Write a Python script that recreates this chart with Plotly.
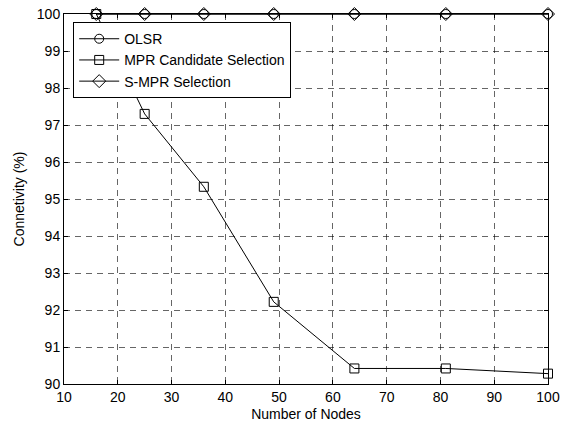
import plotly.graph_objects as go

nodes = [16, 25, 36, 49, 64, 81, 100]
olsr = [100, 100, 100, 100, 100, 100, 100]
mpr_candidate = [100, 97.3, 95.33, 92.22, 90.42, 90.42, 90.28]
smpr = [100, 100, 100, 100, 100, 100, 100]
names = ["OLSR", "MPR Candidate Selection", "S-MPR Selection"]

fig = go.Figure()
fig.add_trace(go.Scatter(x=nodes, y=olsr, name=names[0], mode="lines+markers",
                         line=dict(color="black", width=1),
                         marker=dict(symbol="circle-open", size=9, color="black", line=dict(width=1)),
                         cliponaxis=False))
fig.add_trace(go.Scatter(x=nodes, y=mpr_candidate, name=names[1], mode="lines+markers",
                         line=dict(color="black", width=1),
                         marker=dict(symbol="square-open", size=9, color="black", line=dict(width=1)),
                         cliponaxis=False))
fig.add_trace(go.Scatter(x=nodes, y=smpr, name=names[2], mode="lines+markers",
                         line=dict(color="black", width=1),
                         marker=dict(symbol="diamond-open", size=10, color="black", line=dict(width=1)),
                         cliponaxis=False))

axis_common = dict(showline=True, linecolor="black", linewidth=1, mirror="ticks",
                   ticks="inside", ticklen=4, tickcolor="black", automargin=False,
                   showgrid=True, gridcolor="rgba(0,0,0,0.6)", griddash="6px,5px", gridwidth=1,
                   zeroline=False, tickfont=dict(size=14, color="black"))

fig.update_xaxes(range=[10, 100], dtick=10, tick0=10,
                 title=dict(text="Number of Nodes", font=dict(size=14, color="black"), standoff=5),
                 **axis_common)
fig.update_yaxes(range=[90, 100], dtick=1, tick0=90,
                 title=dict(text="Connetivity (%)", font=dict(size=14, color="black"), standoff=8),
                 **axis_common)

fig.update_layout(
    width=566, height=425,
    margin=dict(l=64, r=18, t=14, b=41),
    paper_bgcolor="white", plot_bgcolor="white",
    font=dict(family="Liberation Sans, Arial, sans-serif", size=14, color="black"),
    showlegend=True,
    legend=dict(x=0.019, y=0.978, xanchor="left", yanchor="top",
                bgcolor="white", bordercolor="black", borderwidth=1,
                font=dict(size=14, color="black"), itemwidth=40,
                entrywidth=190, entrywidthmode="pixels",
                tracegroupgap=0),
)

fig.write_html("out.html", config={"displayModeBar": False},
               post_script="document.body.style.margin='0';document.body.style.padding='0';")
